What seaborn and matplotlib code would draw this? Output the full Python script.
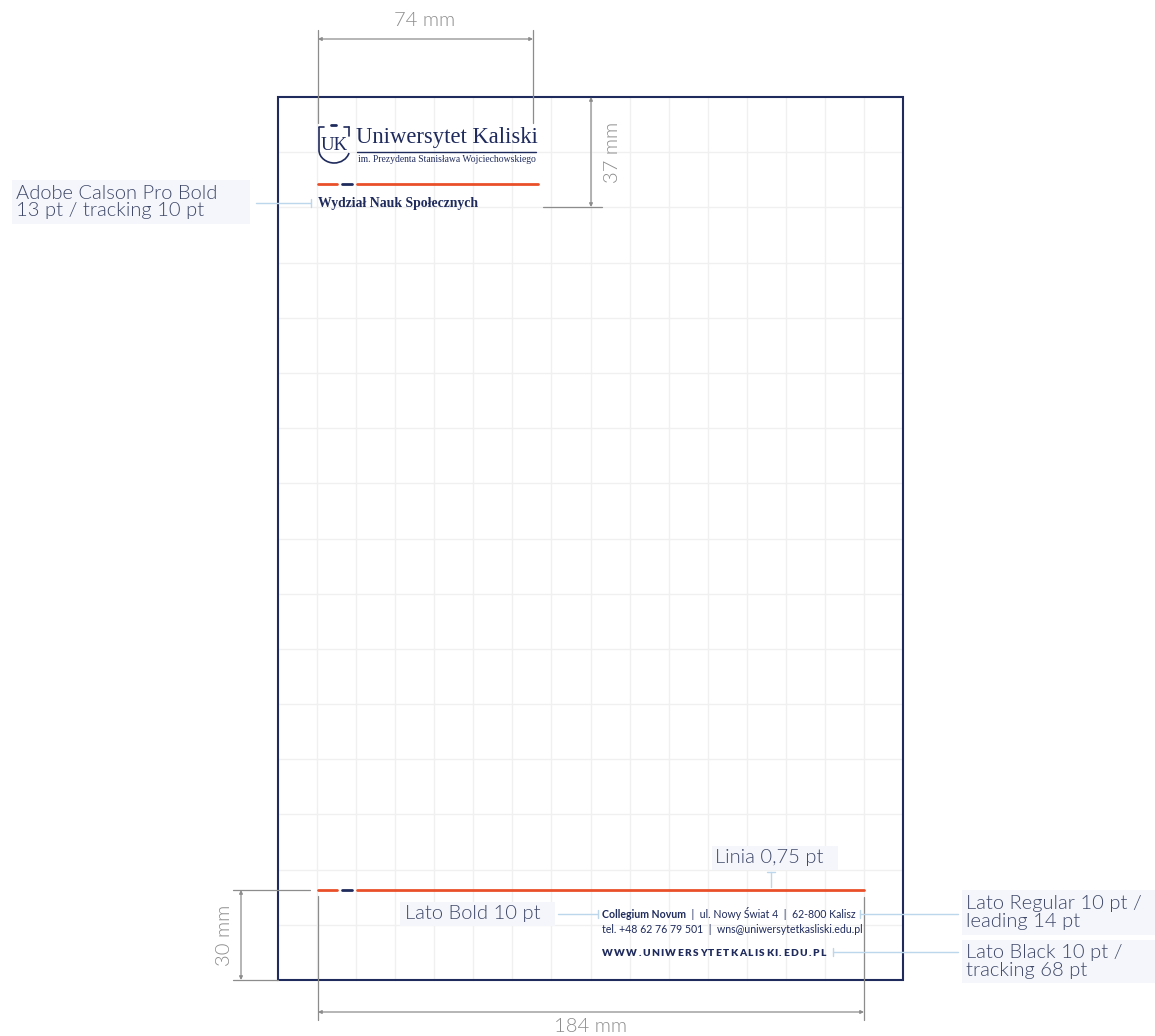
import matplotlib
matplotlib.use("Agg")
import matplotlib.pyplot as plt
import matplotlib.patches as mpatches
from matplotlib.path import Path
import seaborn as sns
import pandas as pd

sns.set_theme(style="white")
plt.rcParams['font.family'] = ['Lato', 'DejaVu Sans']

# ---- data / texts ----
dim_labels = ["74 mm", "37 mm", "30 mm", "184 mm"]
grid_cols = 16
grid_rows = 16
uni_name = "Uniwersytet Kaliski"
uni_sub = "im. Prezydenta Stanisława Wojciechowskiego"
faculty = "Wydział Nauk Społecznych"
footer_bold = "Collegium Novum"
footer_line1 = "  |  ul. Nowy Świat 4  |  62-800 Kalisz"
footer_line2 = "tel. +48 62 76 79 501  |  wns@uniwersytetkasliski.edu.pl"
footer_www = "WWW.UNIWERSYTETKALISKI.EDU.PL"
notes = ["Adobe Calson Pro Bold\n13 pt / tracking 10 pt",
         "Linia 0,75 pt",
         "Lato Bold 10 pt",
         "Lato Regular 10 pt /\nleading 14 pt",
         "Lato Black 10 pt /\ntracking 68 pt"]

NAVY = "#1f2b5c"
ORANGE = "#e9502a"
GRAY = "#8c8c8c"
GRID = "#f0f0f0"
NOTE_BG = "#f4f6fb"
NOTE_FG = "#3f4868"
LEADER = "#bcd6ec"

fig = plt.figure(figsize=(11.55, 10.36), dpi=100)
ax = fig.add_axes([0, 0, 1, 1])
ax.set_xlim(0, 1155)
ax.set_ylim(1036, 0)
ax.axis("off")

# page
PX0, PX1, PY0, PY1 = 278, 903, 97, 980
dx = (PX1 - PX0) / grid_cols
dy = (PY1 - PY0) / grid_rows
for i in range(1, grid_cols):
    ax.plot([PX0 + i * dx] * 2, [PY0, PY1], color=GRID, lw=1, zorder=1)
for j in range(1, grid_rows):
    ax.plot([PX0, PX1], [PY0 + j * dy] * 2, color=GRID, lw=1, zorder=1)
ax.add_patch(mpatches.Rectangle((PX0, PY0), PX1 - PX0, PY1 - PY0, fill=False,
                                edgecolor=NAVY, lw=1.5, zorder=5))

# rule lines (header and footer) drawn with seaborn
rules = pd.DataFrame({
    "x": [318, 337, 342, 352, 357, 538, 318, 337, 342, 352, 357, 864],
    "y": [184, 184, 184, 184, 184, 184, 890, 890, 890, 890, 890, 890],
    "seg": ["a", "a", "b", "b", "c", "c", "d", "d", "e", "e", "f", "f"],
})
palette = {"a": ORANGE, "b": NAVY, "c": ORANGE, "d": ORANGE, "e": NAVY, "f": ORANGE}
sns.lineplot(data=rules, x="x", y="y", hue="seg", palette=palette, lw=2,
             legend=False, ax=ax, sort=False, estimator=None, units="seg", zorder=6)
ax.set_xlim(0, 1155)
ax.set_ylim(1036, 0)
ax.axis("off")

# ---- dimension lines ----
def arrow(x0, y0, x1, y1):
    ax.annotate("", xy=(x1, y1), xytext=(x0, y0),
                arrowprops=dict(arrowstyle="<|-|>", color=GRAY, lw=0.9,
                                mutation_scale=5, shrinkA=0, shrinkB=0), zorder=7)

def line(xs, ys, c=GRAY, lw=0.9):
    ax.plot(xs, ys, color=c, lw=lw, zorder=7)

DIM_FS = 14.5
LW = 300
# 74 mm
line([318, 318], [30, 123]); line([533, 533], [30, 123])
arrow(318, 39, 533, 39)
ax.text(425, 21, dim_labels[0], color=GRAY, fontsize=DIM_FS, weight=LW, ha="center", va="center")
# 37 mm
line([543, 602], [207, 207])
arrow(591, 97, 591, 207)
ax.text(613, 152, dim_labels[1], color=GRAY, fontsize=DIM_FS, weight=LW, ha="center", va="center", rotation=90)
# 30 mm
line([233, 310], [890, 890]); line([233, 278], [980, 980])
arrow(241, 890, 241, 980)
ax.text(224, 935, dim_labels[2], color=GRAY, fontsize=DIM_FS, weight=LW, ha="center", va="center", rotation=90)
# 184 mm
line([318, 318], [896, 1020]); line([864, 864], [897, 1020])
arrow(318, 1012, 864, 1012)
ax.text(590, 1026, dim_labels[3], color=GRAY, fontsize=DIM_FS, weight=LW, ha="center", va="center")

# ---- logo ----
shield = Path([(319, 127), (319, 150), (319, 158), (327, 163), (334, 163),
               (341, 163), (347, 159), (349, 153)],
              [Path.MOVETO, Path.LINETO, Path.CURVE4, Path.CURVE4, Path.CURVE4,
               Path.CURVE4, Path.CURVE4, Path.CURVE4])
ax.add_patch(mpatches.PathPatch(shield, fill=False, edgecolor=NAVY, lw=1.2, zorder=8))
line([319, 324], [127, 127], NAVY, 1.2); line([344, 349], [127, 127], NAVY, 1.2)
line([349, 349], [127, 136], NAVY, 1.2)
line([331, 336], [125, 125], NAVY, 2)
ax.text(334, 146, "UK", family="Liberation Serif", color=NAVY, fontsize=13.5,
        ha="center", va="center", zorder=9)
ax.text(356, 137, uni_name, family="Liberation Serif", color=NAVY, fontsize=16.3,
        ha="left", va="center", zorder=9)
line([357, 536], [152, 152], NAVY, 1)
ax.text(358, 160, uni_sub, family="Liberation Serif", color=NAVY, fontsize=6.9,
        ha="left", va="center", zorder=9)
ax.text(318, 204, faculty, family="Liberation Serif", weight="bold", color=NAVY,
        fontsize=9.9, ha="left", va="center", zorder=9)

# ---- notes ----
def note(x, y, w, h, txt, tx):
    ax.add_patch(mpatches.Rectangle((x, y), w, h, facecolor=NOTE_BG, edgecolor="none", zorder=3))
    ax.text(tx, y + h / 2, txt, color=NOTE_FG, fontsize=14.5, weight=LW, ha="left", va="center",
            linespacing=1.05, zorder=4)

note(12, 180, 238, 44, notes[0], 16)
line([256, 311], [203, 203], LEADER, 1); line([311, 311], [199, 207], LEADER, 1)

note(712, 846, 126, 24, notes[1], 715)
line([771, 771], [872, 887], LEADER, 1); line([767, 775], [872, 872], LEADER, 1)

note(400, 902, 155, 24, notes[2], 405)
line([558, 598], [914, 914], LEADER, 1); line([598, 598], [910, 918], LEADER, 1)

note(962, 890, 193, 45, notes[3], 966)
line([860, 958], [914, 914], LEADER, 1); line([860, 860], [910, 918], LEADER, 1)

note(962, 940, 193, 43, notes[4], 966)
line([833, 958], [952, 952], LEADER, 1); line([833, 833], [948, 956], LEADER, 1)

# ---- footer text ----
FT = 7.6
t = ax.text(602, 918, footer_bold, color=NAVY, fontsize=FT, weight="bold",
            ha="left", va="baseline", zorder=9)
fig.canvas.draw()
bb = t.get_window_extent()
inv = ax.transData.inverted()
xend = inv.transform((bb.x1, bb.y0))[0]
ax.text(xend, 918, footer_line1, color=NAVY, fontsize=FT, ha="left", va="baseline", zorder=9)
ax.text(602, 933, footer_line2, color=NAVY, fontsize=FT, ha="left", va="baseline", zorder=9)

# tracked caps line: place characters one by one
x = 602
rend = fig.canvas.get_renderer()
for ch in footer_www:
    tt = ax.text(x, 956.5, ch, color=NAVY, fontsize=7.3, weight="heavy",
                 ha="left", va="baseline", zorder=9)
    b = tt.get_window_extent(renderer=rend)
    w = inv.transform((b.x1, b.y0))[0] - inv.transform((b.x0, b.y0))[0]
    x += w + 1.4

fig.savefig("out.png", dpi=100, facecolor="white")
